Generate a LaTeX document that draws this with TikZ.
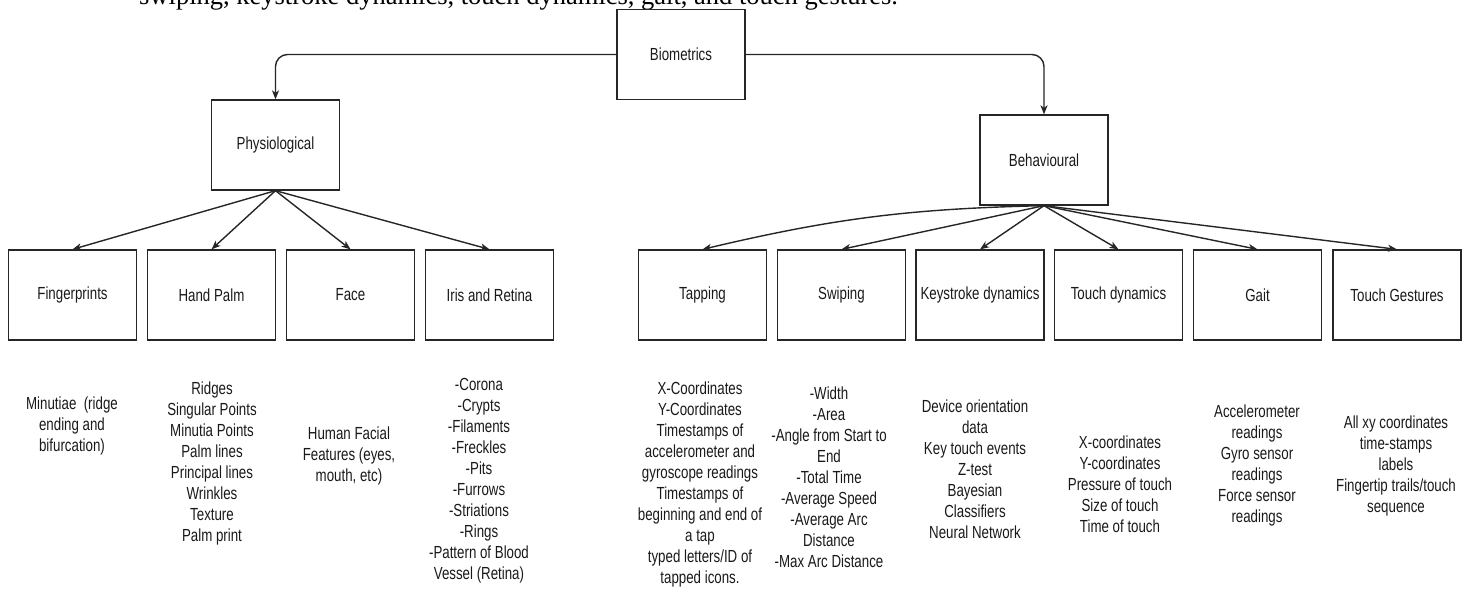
\documentclass[tikz,border=0pt]{standalone}
\usepackage{fontspec}
\setmainfont{Liberation Sans}[FakeStretch=0.76]
\newfontfamily\capfont{Liberation Serif}
\usetikzlibrary{arrows.meta}
\tikzset{
  box/.style={draw=black!85, line width=1.3pt, minimum width=128pt, minimum height=90pt, inner sep=0pt, font=\fontsize{17.5}{21}\selectfont, text=black!90},
  lst/.style={align=center, inner sep=0pt, font=\fontsize{17.5}{21}\selectfont, text=black!90},
  conn/.style={draw=black!85, line width=1.4pt, -{Stealth[length=9pt,width=7pt,inset=2.5pt]}}
}
\begin{document}
\begin{tikzpicture}[x=1pt,y=-1pt]
\useasboundingbox (0,0) rectangle (1472,590);
\clip (0,0) rectangle (1472,590);
\node[font=\capfont\fontsize{26.5}{30}\selectfont, anchor=base west, inner sep=0pt] (cap) at (139,4) {swiping, keystroke dynamics, touch dynamics, gait, and touch gestures.};
% top level
\node[box] (bio) at (681,54.5) {Biometrics};
\node[box] (phys) at (275.5,145) {Physiological};
\node[box] (behav) at (1044,160) {Behavioural};
% children
\node[box] (fp) at (72.5,295) {Fingerprints};
\node[box] (hp) at (211.5,295) {Hand Palm};
\node[box] (face) at (350.5,295) {Face};
\node[box] (iris) at (489.5,295) {Iris and Retina};
\node[box] (tap) at (702.5,295) {Tapping};
\node[box] (swi) at (841.5,295) {Swiping};
\node[box] (key) at (980,295) {Keystroke dynamics};
\node[box] (td) at (1118.5,295) {Touch dynamics};
\node[box] (gait) at (1257.5,295) {Gait};
\node[box] (tg) at (1397,295) {Touch Gestures};
% connectors
\draw[conn, rounded corners=12pt] (bio.west) -| (phys.north);
\draw[conn, rounded corners=12pt] (bio.east) -| (behav.north);
\foreach \c in {fp,hp,face,iris} \draw[conn] (phys.south) -- (\c.north);
\draw[conn] (behav.south) to[bend right=6] (tap.north);
\foreach \c in {swi,key,td,gait,tg} \draw[conn] (behav.south) -- (\c.north);
% lists
\node[lst] (fpl) at (72,425.5) {Minutiae~ (ridge\\ending and\\bifurcation)};
\node[lst] (hpl) at (212,463.5) {Ridges\\Singular Points\\Minutia Points\\Palm lines\\Principal lines\\Wrinkles\\Texture\\Palm print};
\node[lst] (facel) at (349,456) {Human Facial\\Features (eyes,\\mouth, etc)};
\node[lst] (irisl) at (479,481) {-Corona\\-Crypts\\-Filaments\\-Freckles\\-Pits\\-Furrows\\-Striations\\-Rings\\-Pattern of Blood\\Vessel (Retina)};
\node[lst] (tapl) at (700,484) {X-Coordinates\\Y-Coordinates\\Timestamps of\\accelerometer and\\gyroscope readings\\Timestamps of\\beginning and end of\\a tap\\typed letters/ID of\\tapped icons.};
\node[lst] (swil) at (829,477.5) {-Width\\-Area\\-Angle from Start to\\End\\-Total Time\\-Average Speed\\-Average Arc\\Distance\\-Max Arc Distance};
\node[lst] (keyl) at (975,469.5) {Device orientation\\data\\Key touch events\\Z-test\\Bayesian\\Classifiers\\Neural Network};
\node[lst] (tdl) at (1120,484) {X-coordinates\\Y-coordinates\\Pressure of touch\\Size of touch\\Time of touch};
\node[lst] (gaitl) at (1257,465.5) {Accelerometer\\readings\\Gyro sensor\\readings\\Force sensor\\readings};
\node[lst] (tgl) at (1396,466) {All xy coordinates\\time-stamps\\labels\\Fingertip trails/touch\\sequence};
\end{tikzpicture}
\end{document}
